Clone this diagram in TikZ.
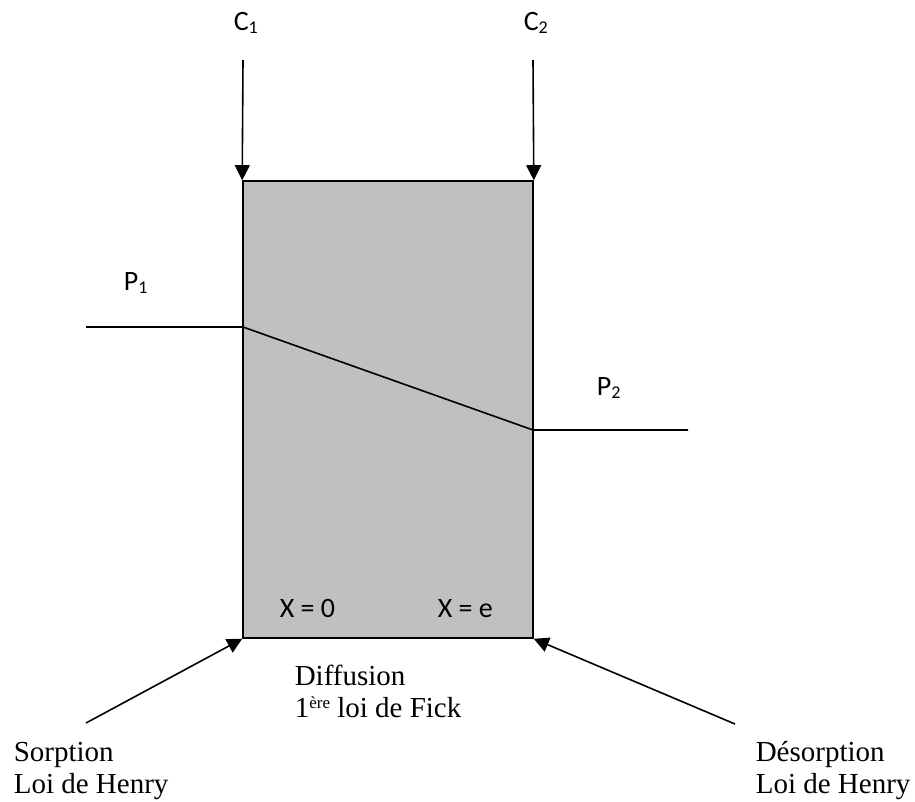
\documentclass[tikz,border=0pt]{standalone}
\usepackage{fontspec}
\setmainfont{Liberation Serif}
\newfontfamily\calib{Carlito}
\usetikzlibrary{arrows.meta}
\definecolor{cGray}{HTML}{C0C0C0}
\newcommand{\lowidx}[1]{\raisebox{-3pt}{\fontsize{18}{18}\selectfont #1}}
\newcommand{\highidx}[1]{\raisebox{9pt}{\fontsize{17}{17}\selectfont #1}}

\begin{document}
\begin{tikzpicture}[x=1pt,y=-1pt,line width=1.6pt,
      membrane/.style={draw,fill=cGray,minimum width=290pt,minimum height=457pt,
                       inner sep=0pt,line width=1.6pt},
      sanslbl/.style={font=\calib\fontsize{28}{31}\selectfont,inner sep=0pt,anchor=base west},
      seriflbl/.style={font=\fontsize{29}{32}\selectfont,inner sep=0pt,anchor=base west,align=left},
      arr/.style={-{Triangle[length=15pt,width=15pt]}}]
    \useasboundingbox (0,0) rectangle (915,801);
    % membrane
    \node[membrane] (mem) at (388,409.5) {};
    \coordinate (p1in) at (86,327);
    \coordinate (p1m) at (243,327);
    \coordinate (p2m) at (533,430);
    \coordinate (p2out) at (688,430);
    \draw (p1in) -- (p1m) -- (p2m) -- (p2out);
    % concentrations
    \node[sanslbl] (c1) at (233,30) {C\lowidx{1}};
    \node[sanslbl] (c2) at (523,30) {C\lowidx{2}};
    \coordinate (c1top) at (243,60);
    \coordinate (c2top) at (533,60);
    \draw[arr] (c1top) -- (mem.north west);
    \draw[arr] (c2top) -- (mem.north east);
    % pressures
    \node[sanslbl] (p1) at (123,290) {P\lowidx{1}};
    \node[sanslbl] (p2) at (596,395) {P\lowidx{2}};
    \node[sanslbl] (x0) at (279,617) {X = 0};
    \node[sanslbl] (xe) at (437,617) {X = e};
    % steps
    \node[seriflbl] (diff) at (294,717) {Diffusion\\1\highidx{ère} loi de Fick};
    \node[seriflbl] (sorp) at (13,793) {Sorption\\Loi de Henry};
    \node[seriflbl] (desorp) at (755,793) {Désorption\\Loi de Henry};
    \coordinate (sorpin) at (86,723);
    \coordinate (desorpin) at (735,724);
    \draw[arr] (sorpin) -- (mem.south west);
    \draw[arr] (desorpin) -- (mem.south east);
\end{tikzpicture}
\end{document}
